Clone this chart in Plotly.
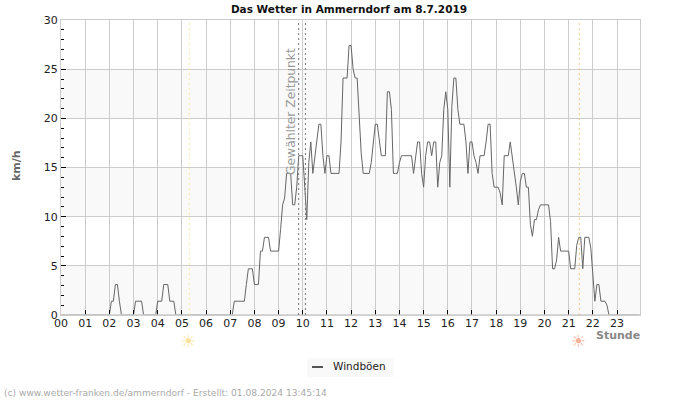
import plotly.graph_objects as go

# Wind gusts in km/h, one value per 5 minutes, one list per hour
h00 = [0] * 12
h01 = [0] * 12
h02 = [0, 1.4, 1.4, 3.1, 3.1, 1.4, 0, 0, 0, 0, 0, 0]
h03 = [0, 1.4, 1.4, 1.4, 1.4, 0, 0, 0, 0, 0, 0, 0]
h04 = [1.4, 1.4, 1.4, 3.1, 3.1, 3.1, 1.4, 1.4, 1.4, 0, 0, 0]
h05 = [0] * 12
h06 = [0] * 12
h07 = [0, 0, 1.4, 1.4, 1.4, 1.4, 1.4, 1.4, 3.1, 4.7, 4.7, 4.7]
h08 = [3.1, 3.1, 3.1, 6.5, 6.5, 7.9, 7.9, 7.9, 6.5, 6.5, 6.5, 6.5]
h09 = [6.5, 8.7, 11.2, 11.9, 14.4, 14.4, 14.4, 11.2, 11.2, 13.0, 16.2, 16.2]
h10 = [16.2, 13, 9.7, 15.5, 17.6, 14.4, 16.2, 17.6, 19.4, 19.4, 16.2, 14.4]
h11 = [16.2, 16.2, 14.4, 14.4, 14.4, 14.4, 14.4, 17.6, 24.1, 24.1, 24.1, 27.4]
h12 = [27.4, 25, 24.1, 24.1, 20, 16.5, 14.4, 14.4, 14.4, 14.4, 15.5, 17.6]
h13 = [19.4, 19.4, 17.6, 16.2, 16.2, 16.2, 22.7, 22.7, 20.9, 14.4, 14.4, 14.4]
h14 = [15.5, 16.2, 16.2, 16.2, 16.2, 16.2, 16.2, 14.4, 16.2, 17.6, 17.6, 14.4]
h15 = [13, 16.2, 17.6, 17.6, 16.2, 17.6, 17.6, 13, 15.5, 16.2, 20.9, 22.7]
h16 = [20.9, 13, 21.2, 24.1, 24.1, 20.9, 19.4, 19.4, 19.4, 17.6, 14.4, 17.6]
h17 = [17.6, 16.2, 15.5, 14.4, 16.2, 16.2, 16.2, 17.6, 19.4, 19.4, 14.4, 13]
h18 = [13, 13, 12.4, 11.2, 16.2, 16.2, 16.2, 17.6, 16.2, 14.4, 13, 11.2]
h19 = [13.6, 14.4, 14.4, 13, 13, 9.2, 8, 9.7, 9.7, 10.7, 11.2, 11.2]
h20 = [11.2, 11.2, 11.2, 9.5, 4.7, 4.7, 5.6, 7.9, 6.5, 6.5, 6.5, 6.5]
h21 = [6.5, 4.7, 4.7, 4.7, 7.1, 7.9, 7.9, 4.7, 7.9, 7.9, 7.9, 6.8]
h22 = [3.9, 1.4, 3.1, 3.1, 1.4, 1.4, 1.4, 1, 0, 0, 0, 0]
h23 = [0] * 12

hours = [h00, h01, h02, h03, h04, h05, h06, h07, h08, h09, h10, h11,
         h12, h13, h14, h15, h16, h17, h18, h19, h20, h21, h22, h23]
gusts = [v for hour in hours for v in hour]
times = [i / 12 for i in range(len(gusts))]

hour_ticks = list(range(24))
hour_labels = [f"{h:02d}" for h in hour_ticks]
speed_ticks = [0, 5, 10, 15, 20, 25, 30]
band_ranges = [(0, 5), (10, 15), (20, 25)]
selected_times = [9.83, 10.11]
sunrise = 5.31
sunset = 21.44

FONT = "DejaVu Sans"
fig = go.Figure()
fig.add_trace(go.Scatter(x=times, y=gusts, mode="lines", name="Windböen",
                         line=dict(color="#666666", width=1, shape="linear"),
                         showlegend=False, hoverinfo="skip"))

shapes = []
for lo, hi in band_ranges:
    shapes.append(dict(type="rect", xref="x", yref="y", x0=0, x1=23.95, y0=lo, y1=hi,
                       fillcolor="#f9f9f9", line_width=0, layer="below"))
# light base line over the trace, so that calm spells do not draw a dark line
shapes.append(dict(type="line", xref="x", yref="paper", x0=0, x1=23.95, y0=0, y1=0,
                   line=dict(color="#cccccc", width=1.5)))
for t in selected_times:
    shapes.append(dict(type="line", xref="x", yref="paper", x0=t, x1=t, y0=0, y1=1,
                       line=dict(color="#777777", width=1, dash="2px,3px")))
shapes.append(dict(type="line", xref="x", yref="paper", x0=sunrise, x1=sunrise, y0=0, y1=1,
                   line=dict(color="#f6e9a8", width=1, dash="2px,3px")))
shapes.append(dict(type="line", xref="x", yref="paper", x0=sunset, x1=sunset, y0=0, y1=1,
                   line=dict(color="#f5c890", width=1, dash="2px,3px")))
# legend box and swatch
shapes.append(dict(type="rect", xref="paper", yref="paper",
                   x0=(307 - 61) / 579, x1=(394 - 61) / 579,
                   y0=(315 - 377) / 295, y1=(315 - 358) / 295,
                   fillcolor="#f9f9f9", line_width=0))
shapes.append(dict(type="line", xref="paper", yref="paper",
                   x0=(312 - 61) / 579, x1=(323 - 61) / 579,
                   y0=(315 - 367) / 295, y1=(315 - 367) / 295,
                   line=dict(color="#555555", width=2)))


def px_note(text, x, y, size, color, anchor="center", bold=False, angle=0):
    return dict(text=f"<b>{text}</b>" if bold else text, xref="paper", yref="paper",
                x=(x - 61) / 579, y=(315 - y) / 295, xanchor=anchor, yanchor="middle",
                showarrow=False, textangle=angle,
                font=dict(family=FONT, size=size, color=color))


notes = [
    px_note("km/h", 16, 166, 11, "#666666", bold=True, angle=-90),
    px_note("Stunde", 642, 335, 11, "#888888", anchor="right", bold=True),
    px_note("Gewählter Zeitpunkt", 291, 112, 12.3, "#999999", angle=-90),
    px_note("Windböen", 331, 366, 10.5, "#222222", anchor="left"),
    px_note("(c) www.wetter-franken.de/ammerndorf - Erstellt: 01.08.2024 13:45:14",
            1.5, 393, 9.1, "#aaaaaa", anchor="left"),
    px_note("☀", 188.5, 341, 17, "#fbe29a"),
    px_note("☀", 578, 341, 17, "#fbb09a"),
]

fig.update_layout(
    width=700, height=400, autosize=False,
    margin=dict(l=61, r=60, t=20, b=85),
    paper_bgcolor="white", plot_bgcolor="white",
    title=dict(text="<b>Das Wetter in Ammerndorf am 8.7.2019</b>", x=349 / 700, xanchor="center",
               y=1 - 9 / 400, yanchor="middle", font=dict(family=FONT, size=10.5, color="#111111")),
    font=dict(family=FONT, size=11, color="#222222"),
    shapes=shapes, annotations=notes, showlegend=False,
    xaxis=dict(range=[0, 23.95], tickmode="array", tickvals=hour_ticks, ticktext=hour_labels,
               ticks="inside", ticklen=5, tickcolor="#000000", tickwidth=1,
               showgrid=True, gridcolor="#cccccc", gridwidth=1, zeroline=False,
               showline=True, linecolor="#cccccc", linewidth=1, mirror=True,
               layer="above traces", ticklabelstandoff=-2,
               tickangle=0, tickfont=dict(family=FONT, size=11, color="#222222")),
    yaxis=dict(range=[0, 30], tickmode="array", tickvals=speed_ticks,
               ticks="inside", ticklen=5, tickcolor="#000000", tickwidth=1,
               showgrid=True, gridcolor="#cccccc", gridwidth=1, zeroline=False,
               showline=True, linecolor="#cccccc", linewidth=1, mirror=True,
               tickfont=dict(family=FONT, size=11, color="#222222"),
               minor=dict(tickmode="linear", dtick=1, ticks="inside", ticklen=3,
                          tickcolor="#000000", tickwidth=1, showgrid=False)),
)
fig.write_html("out.html", config={"displayModeBar": False},
               post_script="document.body.style.margin='0';document.documentElement.style.overflow='hidden';")
